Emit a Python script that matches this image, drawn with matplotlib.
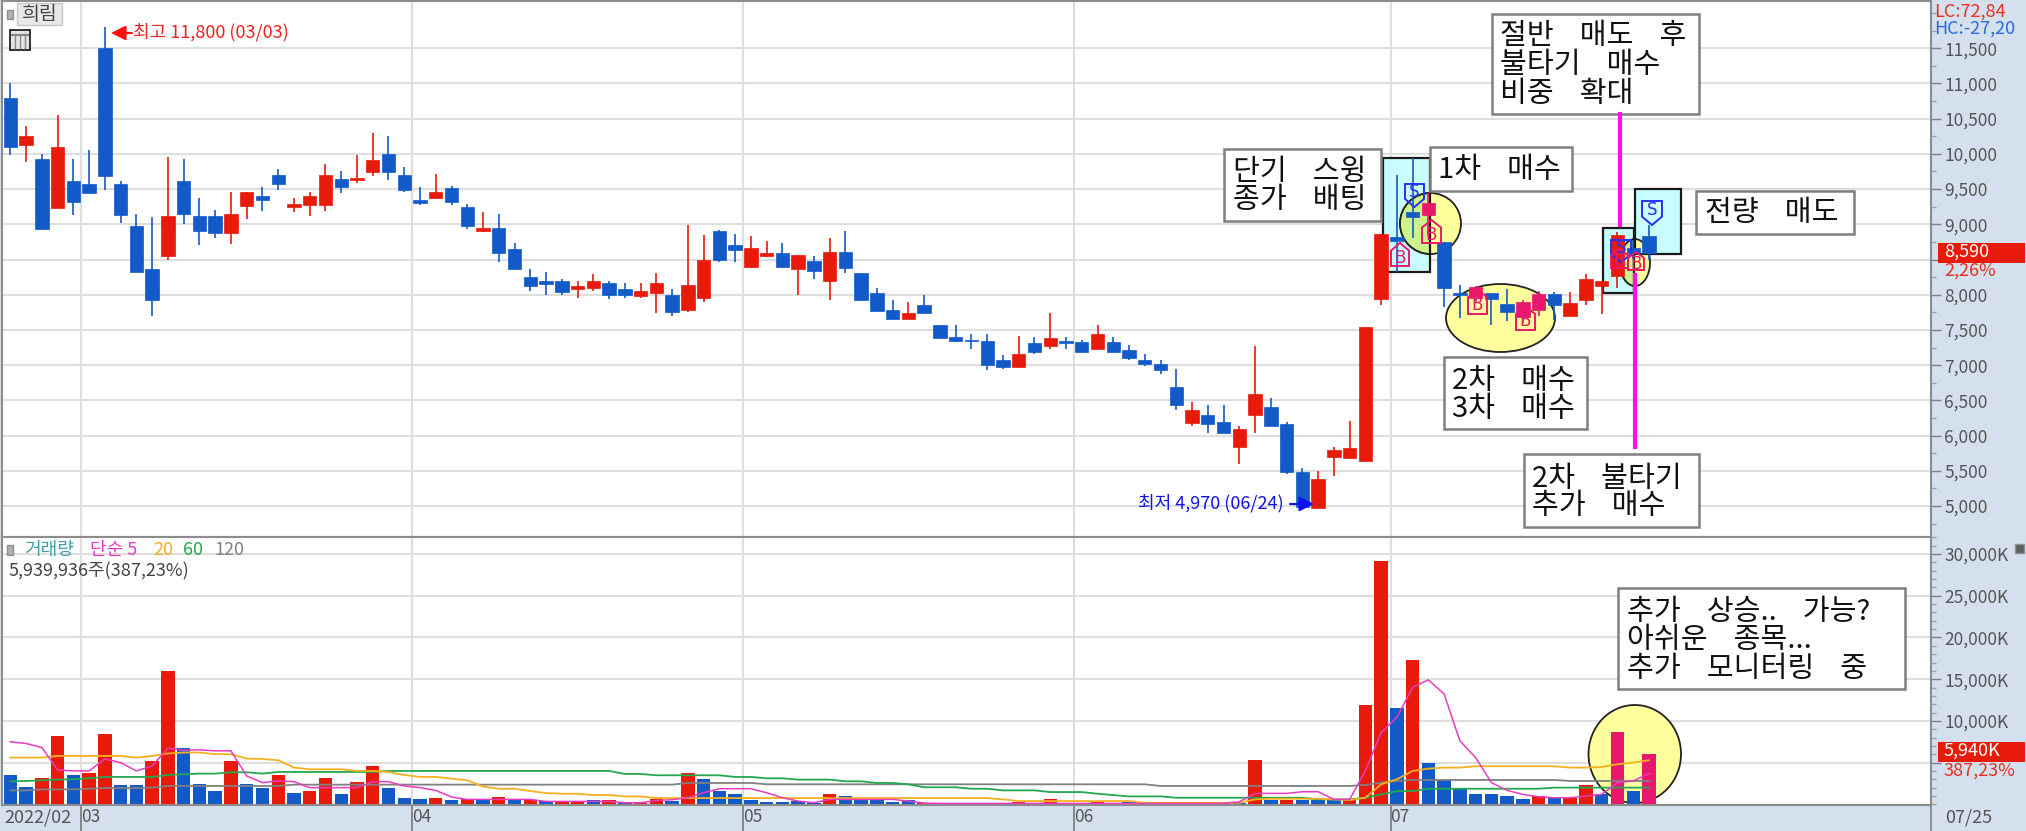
#!/usr/bin/env python3
"""
daily candle chart with volume pane and hand drawn trade notes
"""
import matplotlib
matplotlib.use('Agg')
import matplotlib.pyplot as plt
from matplotlib.patches import Rectangle, Ellipse, Polygon
from matplotlib.ticker import FixedLocator, MultipleLocator
import numpy as np

plt.rcParams['font.family'] = ['Noto Sans CJK KR', 'DejaVu Sans']

#%% data, one entry per session
p_open = [10800,10130,9930,9230,9610,9570,11510,9570,8970,8360,8550,9610,9120,9120,8870,9260,9400,9700,9250,9280,
          9280,9650,9630,9740,10000,9700,9340,9380,9510,9250,8910,8950,8650,8250,8190,8200,8080,8100,8160,8080,
          7980,8020,7990,7780,7960,8910,8700,8400,8550,8590,8360,8480,8190,8610,8310,8030,7780,7660,7860,7570,
          7400,7360,7350,7070,6970,7310,7270,7350,7330,7230,7330,7210,7080,7010,6690,6180,6290,6200,5840,6290,
          6400,6160,5480,4970,5700,5680,5640,7940,8820,9180,9130,8750,8030,7950,8030,7870,7690,7780,8010,7700,
          7920,8130,8260,8660,8840]
p_close = [10100,10250,8930,10100,9320,9450,9680,9130,8320,7930,9120,9150,8910,8870,9140,9460,9340,9570,9290,9400,
           9700,9530,9660,9910,9740,9490,9300,9460,9320,8980,8950,8590,8360,8120,8150,8040,8120,8190,8000,8000,
           8060,8160,7760,8140,8500,8490,8640,8670,8590,8400,8570,8340,8610,8380,7930,7770,7660,7740,7740,7380,
           7350,7340,7000,6970,7160,7180,7380,7320,7190,7440,7190,7100,7010,6930,6440,6370,6160,6040,6100,6590,
           6140,5480,4980,5390,5800,5820,7540,8860,8770,9110,9300,8100,8000,8110,7940,7750,7900,8010,7860,7880,
           8230,8190,8850,8590,8590]
p_high = [11000,10400,10000,10550,9930,10060,11800,9610,9140,9100,9950,9930,9380,9210,9460,9460,9530,9780,9380,9460,
          9850,9760,9990,10290,10250,9810,9530,9720,9550,9290,9170,9140,8740,8370,8330,8230,8200,8290,8190,8160,
          8160,8310,8080,8990,8850,8920,8860,8830,8760,8740,8570,8550,8800,8910,8310,8100,7930,7890,7990,7570,
          7570,7440,7440,7140,7420,7400,7740,7400,7360,7570,7400,7290,7160,7080,6950,6480,6440,6440,6140,7270,
          6540,6200,5540,5500,5840,6210,7540,8860,9700,9940,9450,8750,8140,8130,8030,8080,7930,8060,8040,8040,
          8290,8190,8890,8780,8990]
p_low = [9980,9890,8930,9230,9130,9450,9490,9020,8320,7700,8490,9000,8700,8810,8720,9080,9190,9490,9170,9120,
         9190,9450,9590,9680,9630,9460,9280,9360,9280,8930,8890,8470,8360,8060,8000,8000,7950,8060,7940,7950,
         7950,7740,7700,7750,7890,8470,8470,8380,8530,8380,7990,8230,7930,8310,7910,7770,7660,7660,7740,7380,
         7330,7230,6930,6950,6970,7160,7230,7230,7190,7230,7190,7080,6990,6870,6360,6140,6040,6040,5590,6040,
         6140,5460,4970,4970,5420,5680,5640,7850,8330,8800,8850,7830,7670,7900,7570,7630,7600,7700,7640,7700,
         7850,7730,8100,8510,8490]
# R up, B down, P red seen through the yellow circles
p_color = ('BRBRBBBBBB' 'RBBBRRBBRR' 'RBRRBBBRBB' 'RBBBBBRRBB' 'RRBRRBBRRB'
           'RBRBBBBRBB' 'BBBBRBRBBR' 'BBBBBRBBRR' 'BBBRRRRRBB' 'PBBPBBPPBR' 'RRRBB')

vol = [3530,2085,3170,8220,3530,3730,8420,2285,2285,5170,16000,6780,2450,1565,5170,2450,1925,3530,1365,1565,
       3170,1200,2650,4610,1925,800,640,800,480,640,480,840,560,560,400,400,400,480,480,240,
       200,680,400,3730,3000,1565,1200,480,280,280,400,200,1200,1000,600,600,320,480,200,200,
       160,160,200,200,320,200,680,200,200,280,200,280,160,160,160,200,200,200,200,5370,
       480,480,560,560,560,480,11870,29190,11510,17280,5010,2890,1885,1200,1200,1000,680,1000,800,800,
       2285,1200,8620,1565,6095]
vol_color = ('BBRRBRRBBR' 'RBBBRBBRBR' 'RBRRBBBRBR' 'BRBRBRRBRB' 'RRBRBBBBBB'
             'BBRBBBBBRR' 'BBRBRBRBBR' 'BBRRRBRBBR' 'BRBBBRRRBR' 'BBBBBBBRBR' 'RBPBP')

ma5 = [7500,7300,6820,4130,4010,4010,5450,5010,4010,4610,6740,6500,6540,6420,6420,3410,2610,2810,2730,2010,
       2010,2010,2010,2730,2730,2210,2010,1680,880,600,600,600,600,600,360,360,360,360,360,200,
       200,480,560,800,1400,1880,1880,1880,1400,800,400,200,600,600,600,600,600,400,160,120,
       120,120,120,120,120,120,120,120,120,120,120,120,120,120,120,120,120,120,320,1320,
       1320,1320,1520,1520,600,600,4010,8620,10430,14040,14920,13230,7620,5610,2610,1680,1200,920,800,800,
       1000,1200,2610,2810,3690]
ma20 = [5610,5610,5610,5810,5810,5810,5810,5810,5610,5810,6100,6220,6220,6020,6020,5490,5450,5290,4410,4210,
        4210,4210,4010,4010,3890,3530,3290,3290,3090,2890,2130,1880,1880,1600,1360,1280,1280,1120,1120,960,
        960,760,760,760,760,760,760,760,760,760,760,760,760,760,760,760,760,760,760,760,
        760,760,760,600,400,400,400,400,400,400,400,400,200,200,200,200,200,200,200,600,
        680,680,680,680,600,520,800,2410,3010,4010,4290,4410,4410,4570,4570,4570,4570,4570,4570,4410,
        4410,4490,4810,5010,5290]
ma60 = [2770,2810,2890,2970,3010,3130,3290,3290,3290,3290,3530,3610,3690,3690,3850,3850,3690,3890,3890,3890,
        3890,3890,3890,3890,4010,4010,4010,4010,4010,4010,4010,4010,4010,4010,4010,4010,4010,4010,4010,3650,
        3650,3490,3490,3490,3490,3490,3290,3290,3130,3130,2970,2970,2970,2770,2770,2570,2570,2410,2050,2050,
        2050,1880,1880,1680,1680,1680,1480,1480,1480,1280,1120,960,960,960,800,800,800,800,800,800,
        800,800,800,600,600,600,800,1200,1600,1600,1880,1880,1880,1880,1880,1880,1880,1880,2010,2010,
        2010,2010,2010,2010,2010]
ma120 = [1680,1680,1800,1800,1800,1880,1960,1960,1960,2010,2210,2210,2210,2210,2210,2210,2210,2210,2370,2370,
         2370,2370,2370,2370,2370,2370,2370,2370,2370,2370,2370,2370,2370,2370,2370,2370,2370,2370,2370,2370,
         2370,2370,2370,2570,2570,2570,2570,2570,2410,2410,2410,2410,2410,2410,2410,2410,2410,2410,2410,2410,
         2410,2410,2410,2410,2410,2410,2410,2410,2410,2410,2410,2410,2410,2210,2210,2210,2210,2210,2210,2210,
         2210,2210,2210,2210,2210,2210,2330,2610,2810,2930,2930,2930,2930,2930,2930,2930,2930,2930,2930,2810,
         2810,2810,2810,2810,2810]

# 8,500 and 5,000K sit behind the current value tags
price_ticks = [5000,5500,6000,6500,7000,7500,8000,8500,9000,9500,10000,10500,11000,11500]
price_labels = ['5,000','5,500','6,000','6,500','7,000','7,500','8,000','','9,000','9,500',
                '10,000','10,500','11,000','11,500']
vol_ticks = [5000,10000,15000,20000,25000,30000]
vol_labels = ['','10,000K','15,000K','20,000K','25,000K','30,000K']
month_pos = [4.5,25.5,46.5,67.5,87.6]
month_labels = ['03','04','05','06','07']

red = '#E81A0A'
blue = '#125AC8'
pink = '#E8186C'
band = '#D5E0EE'
cmap = {'R':red, 'B':blue, 'P':pink}
W, H = 2026, 831

#%% panes, given in pixels of the screenshot
fg = plt.figure(figsize=(W/100, H/100), dpi=100, facecolor=band)

def pane(x0, y0, x1, y1, **kw):
    return fg.add_axes([x0/W, 1-y1/H, (x1-x0)/W, (y1-y0)/H], **kw)

ax = pane(2, 1, 1931, 537)
av = pane(2, 537, 1931, 805)
px = pane(0, 0, W, H, zorder=10)
px.set_xlim(0, W)
px.set_ylim(H, 0)
px.axis('off')
px.patch.set_alpha(0)

x = np.arange(105)
for a in (ax, av):
    a.set_xlim(-0.53, 121.9)
    a.set_axisbelow(True)
    a.grid(True, axis='both', color='#DEDEDE', lw=1.5, zorder=0)
    a.yaxis.tick_right()
    a.xaxis.set_major_locator(FixedLocator(month_pos))
    for s in a.spines.values():
        s.set_color('#8C8C8C')
        s.set_linewidth(1.5)
    a.tick_params(axis='y', which='major', length=7.5, width=1, color='#808080',
                  labelcolor='#555555', labelsize=12.5, pad=2)
    a.tick_params(axis='y', which='minor', length=3.5, width=1, color='#A0A0A0')

ax.set_ylim(4560, 12171)
ax.set_yticks(price_ticks)
ax.set_yticklabels(price_labels)
ax.yaxis.set_minor_locator(MultipleLocator(250))
ax.tick_params(axis='x', length=0, labelbottom=False)

av.set_ylim(-70, 32040)
av.set_yticks(vol_ticks)
av.set_yticklabels(vol_labels)
av.yaxis.set_minor_locator(MultipleLocator(1000))
av.set_xticks(month_pos)
av.set_xticklabels(month_labels, ha='left')
av.tick_params(axis='x', length=19, width=1.3, color='#808080', labelcolor='#555555',
               labelsize=12.5, pad=-17)

#%% notes under the candles
def note_rect(x0, y0, x1, y1):
    r = Rectangle((x0, y0), x1-x0, y1-y0, transform=px.transData, fc='#C8FCFF', ec='none', zorder=1.2)
    ax.add_patch(r)
    return r

def oval(a, x0, y0, x1, y1, clip=None):
    e = Ellipse(((x0+x1)/2, (y0+y1)/2), x1-x0, y1-y0, transform=px.transData,
                fc='#FFFF9E', ec='#222222', lw=1.3, zorder=1.4, clip_on=False)
    a.add_patch(e)
    if clip is not None:
        g = Ellipse(((x0+x1)/2, (y0+y1)/2), x1-x0, y1-y0, transform=px.transData,
                    fc='#CCF28A', ec='#222222', lw=1.3, zorder=1.5)
        a.add_patch(g)
        g.set_clip_path(clip)

r1 = note_rect(1383, 158, 1430, 272)
r2 = note_rect(1603, 228, 1634, 293)
r3 = note_rect(1635, 189, 1681, 254)
oval(ax, 1400, 193, 1461, 254, clip=r1)
oval(ax, 1446, 284, 1555, 352)
oval(ax, 1620, 239, 1650, 286, clip=r2)
for r in (r1, r2, r3):
    ax.add_patch(Rectangle(r.get_xy(), r.get_width(), r.get_height(), transform=px.transData,
                           fc='none', ec='#1A1A1A', lw=1.6, zorder=1.6))
oval(av, 1588.5, 705, 1681, 803)

#%% candles
cols = [cmap[c] for c in p_color]
ax.vlines(x, p_low, p_high, colors=cols, lw=1.2, zorder=3)
bot = np.minimum(p_open, p_close)
top = np.maximum(p_open, p_close)
ax.bar(x, top-bot, bottom=bot, width=0.85, color=cols, edgecolor=cols, lw=0.5, zorder=4)

#%% volume
av.bar(x, vol, width=0.85, color=[cmap[c] for c in vol_color], zorder=3)
av.plot(x, ma120, color='#808080', lw=1.3, zorder=4)
av.plot(x, ma60, color='#22A850', lw=1.3, zorder=4)
av.plot(x, ma20, color='#F5B020', lw=1.3, zorder=4)
av.plot(x, ma5, color='#E83CC0', lw=1.1, zorder=4)

#%% buy / sell flags
def buy(x0, x1, y0, y1):
    xm = (x0+x1)/2
    ys = y0 + (y1-y0)*0.33
    px.add_patch(Polygon([(xm, y0), (x1, ys), (x1, y1), (x0, y1), (x0, ys)], closed=True,
                         fc='none', ec=pink, lw=1.4))
    px.text(xm, y0+(y1-y0)*0.64, 'B', color=pink, fontsize=12, ha='center', va='center', family='DejaVu Sans')

def sell(x0, x1, y0, y1):
    xm = (x0+x1)/2
    ys = y0 + (y1-y0)*0.65
    px.add_patch(Polygon([(x0, y0), (x1, y0), (x1, ys), (xm, y1), (x0, ys)], closed=True,
                         fc='none', ec='#2A30F0', lw=1.4))
    px.text(xm, y0+(y1-y0)*0.36, 'S', color='#2A30F0', fontsize=12, ha='center', va='center', family='DejaVu Sans')

sell(1405, 1424, 184, 207)
sell(1611, 1631, 240, 262)
sell(1642, 1662, 201, 225)
buy(1391, 1409, 243, 266)
buy(1422, 1441, 220, 243)
buy(1468, 1487, 289, 314)
buy(1516, 1535, 306, 330)
buy(1611, 1628, 249, 268)
buy(1628, 1644, 252, 270)

#%% call out boxes
def box(x0, y0, x1, y1, lines, xt, ys, fs=21):
    px.add_patch(Rectangle((x0, y0), x1-x0, y1-y0, fc='white', ec='#808080', lw=1.8))
    for s, y in zip(lines, ys):
        px.text(xt, y, s, fontsize=fs, color='#111111', ha='left', va='center')

px.plot([1620, 1620], [114, 225], color='#FF10E8', lw=3)
px.plot([1635, 1635], [275, 447], color='#FF10E8', lw=3)

box(1492, 14, 1699, 114, ['절반    매도    후', '불타기    매수', '비중    확대'], 1500, (36, 65, 94))
box(1224, 149, 1381, 221, ['단기    스윙', '종가    배팅'], 1233, (172, 200))
box(1430, 147, 1572, 191, ['1차    매수'], 1438, (170,))
box(1696, 191, 1854, 234, ['전량    매도'], 1705, (213,))
box(1444, 357, 1587, 429, ['2차    매수', '3차    매수'], 1452, (381, 409))
box(1524, 454, 1699, 527, ['2차    불타기', '추가    매수'], 1532, (479, 506))
box(1618, 588, 1905, 689, ['추가    상승..    가능?', '아쉬운    종목...', '추가    모니터링    중'], 1627, (612, 640, 669))

#%% small labels
px.add_patch(Rectangle((17, 3), 45, 22, fc='#E8E8E8', ec='#C8C8C8', lw=1))
px.text(39.5, 14, '희림', fontsize=14, color='#444444', ha='center', va='center')
px.add_patch(Rectangle((7, 10), 6, 9, fc='#B0B0B0', ec='#909090', lw=1))
px.add_patch(Rectangle((10, 30), 20, 20, fc='#E4E4E4', ec='#222222', lw=1.3))
for v in (15, 20, 25):
    px.plot([v, v], [34, 48], color='#888888', lw=1)
px.plot([12, 28], [35, 35], color='#888888', lw=1.5)

px.annotate('', xy=(111, 33), xytext=(132, 33),
            arrowprops=dict(arrowstyle='-|>', color='#FF1010', lw=1.5, mutation_scale=22, shrinkA=0, shrinkB=0))
px.text(133, 32, '최고 11,800 (03/03)', fontsize=13, color='#F02020', ha='left', va='center')
px.annotate('', xy=(1314, 504), xytext=(1290, 504),
            arrowprops=dict(arrowstyle='-|>', color='#1010F0', lw=1.5, mutation_scale=22, shrinkA=0, shrinkB=0))
px.text(1284, 503, '최저 4,970 (06/24)', fontsize=13, color='#1414E0', ha='right', va='center')

px.text(1934, 12, 'LC:72,84', fontsize=13, color='#E83020', ha='left', va='center')
px.text(1934, 29, 'HC:-27,20', fontsize=13, color='#2A6AE0', ha='left', va='center')
px.add_patch(Rectangle((1938, 243), 87, 20, fc=red, ec='none'))
px.text(1944, 252, '8,590', fontsize=13, color='white', ha='left', va='center')
px.text(1944, 271, '2,26%', fontsize=13, color='#E83020', ha='left', va='center')
px.add_patch(Rectangle((1938, 742), 87, 20, fc=red, ec='none'))
px.text(1944, 751, '5,940K', fontsize=13, color='white', ha='left', va='center')
px.text(1944, 771, '387,23%', fontsize=13, color='#E83020', ha='left', va='center')
px.add_patch(Rectangle((2015, 544), 9, 9, fc='#606060', ec='#909090', lw=1))

px.add_patch(Rectangle((7, 545), 6, 10, fc='#B0B0B0', ec='#909090', lw=1))
px.text(24, 550, '거래량', fontsize=13, color='#3C9FA8', ha='left', va='center')
px.text(90, 550, '단순 5', fontsize=13, color='#E83CC0', ha='left', va='center')
px.text(153, 550, '20', fontsize=13, color='#F5B020', ha='left', va='center')
px.text(183, 550, '60', fontsize=13, color='#22A850', ha='left', va='center')
px.text(214, 550, '120', fontsize=13, color='#808080', ha='left', va='center')
px.text(9, 571, '5,939,936주(387,23%)', fontsize=13, color='#444444', ha='left', va='center')

px.text(4, 818, '2022/02', fontsize=13, color='#555555', ha='left', va='center')
px.text(1945, 818, '07/25', fontsize=13, color='#555555', ha='left', va='center')
px.plot([1931, 1931], [805, 831], color='#808080', lw=1.2)

fg.savefig('out.png', dpi=100, facecolor=band)
